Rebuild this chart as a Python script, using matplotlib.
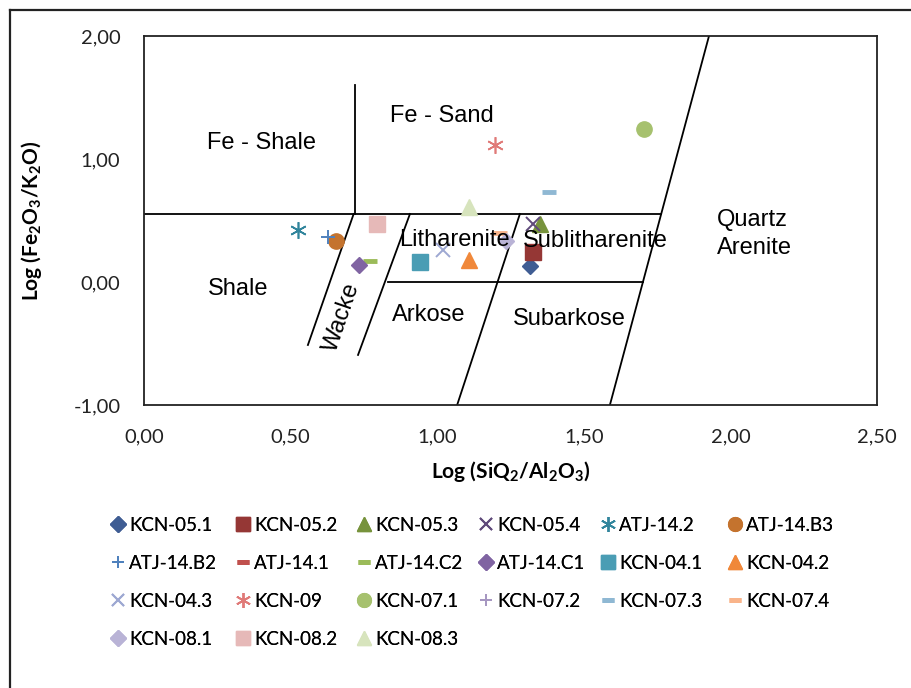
import matplotlib
matplotlib.use('Agg')
import matplotlib.pyplot as plt
from matplotlib.lines import Line2D
from matplotlib.ticker import FuncFormatter

plt.rcParams['font.family'] = ['Lato', 'DejaVu Sans']
plt.rcParams['mathtext.fontset'] = 'custom'
plt.rcParams['mathtext.rm'] = 'Lato'
plt.rcParams['mathtext.bf'] = 'Lato:bold'

# Samples: log(SiO2/Al2O3), log(Fe2O3/K2O)
names = ['KCN-05.1', 'KCN-05.2', 'KCN-05.3', 'KCN-05.4', 'ATJ-14.2', 'ATJ-14.B3',
         'ATJ-14.B2', 'ATJ-14.1', 'ATJ-14.C2', 'ATJ-14.C1', 'KCN-04.1', 'KCN-04.2',
         'KCN-04.3', 'KCN-09', 'KCN-07.1', 'KCN-07.2', 'KCN-07.3', 'KCN-07.4',
         'KCN-08.1', 'KCN-08.2', 'KCN-08.3']
log_si_al = [1.315, 1.326, 1.349, 1.326, 0.526, 0.656,
             0.628, 0.940, 0.770, 0.733, 0.942, 1.108,
             1.020, 1.197, 1.705, 1.235, 1.382, 1.215,
             1.235, 0.793, 1.109]
log_fe_k = [0.13, 0.245, 0.47, 0.475, 0.42, 0.334,
            0.367, 0.165, 0.17, 0.138, 0.165, 0.178,
            0.26, 1.114, 1.241, 0.35, 0.728, 0.40,
            0.33, 0.475, 0.612]
markers = ['D', 's', '^', 'x', (6, 2, 0), 'o',
           '+', '_', '_', 'D', 's', '^',
           'x', (6, 2, 0), 'o', '+', '_', '_',
           'D', 's', '^']
colors = ['#3F5D93', '#953735', '#77933C', '#604A7B', '#31859C', '#C4732E',
          '#4F81BD', '#C0504D', '#9BBB59', '#8064A2', '#4A9DB4', '#F0883A',
          '#9DA8D2', '#E07A78', '#A6C16E', '#A697C1', '#8FB8D3', '#F9B48A',
          '#B9B3D6', '#E6B9B8', '#D7E4BD']

# Herron (1988) field boundaries
h_upper_x = [0.0, 1.764]
h_upper_y = [0.553, 0.553]
v_fe_x = [0.72, 0.72]
v_fe_y = [0.553, 1.60]
wacke_l_x = [0.559, 0.715]
wacke_l_y = [-0.512, 0.553]
wacke_r_x = [0.730, 0.907]
wacke_r_y = [-0.593, 0.553]
h_zero_x = [0.832, 1.702]
h_zero_y = [0.0, 0.0]
lith_x = [1.068, 1.282]
lith_y = [-1.0, 0.553]
quartz_x = [1.589, 1.927]
quartz_y = [-1.0, 2.0]

fields = ['Fe - Shale', 'Fe - Sand', 'Shale', 'Litharenite', 'Sublitharenite',
          'Arkose', 'Subarkose', 'Quartz\nArenite']
field_x = [0.40, 1.015, 0.32, 1.06, 1.54, 0.97, 1.45, 1.955]
field_y = [1.13, 1.35, -0.06, 0.34, 0.33, -0.27, -0.30, 0.39]

fig = plt.figure(figsize=(9.12, 6.88), dpi=100)
ax = fig.add_axes([144/912, 1-405/688, 733/912, 369/688])

for xs, ys in [(h_upper_x, h_upper_y), (v_fe_x, v_fe_y), (wacke_l_x, wacke_l_y),
               (wacke_r_x, wacke_r_y), (h_zero_x, h_zero_y), (lith_x, lith_y),
               (quartz_x, quartz_y)]:
    ax.plot(xs, ys, color='black', lw=1.3, zorder=2)

for i in range(len(names)):
    m = markers[i]
    if m in ('x', '+'):
        ms, mew = 10, 1.4
    elif m == '_':
        ms, mew = 10, 3.5
    elif m == 'D':
        ms, mew = 8.5, 1
    elif isinstance(m, tuple):
        ms, mew = 12, 1.2
    else:
        ms, mew = 11, 1
    ax.plot(log_si_al[i], log_fe_k[i], ls='none', marker=m, color=colors[i],
            markersize=ms, markeredgewidth=mew, label=names[i], zorder=3)

for t, x, y in zip(fields, field_x, field_y):
    ha = 'left' if '\n' in t else 'center'
    ax.text(x, y, t, ha=ha, va='center', fontsize=17, family='Liberation Sans',
            zorder=5, linespacing=1.3)
ax.text(0.675, -0.29, 'Wacke', rotation=71, ha='center', va='center', fontsize=17,
        family='Liberation Sans', zorder=5)

ax.set_xlim(0, 2.5)
ax.set_ylim(-1, 2)
ax.set_xticks([0, 0.5, 1, 1.5, 2, 2.5])
ax.set_yticks([-1, 0, 1, 2])
fmt = FuncFormatter(lambda v, p: ('%.2f' % v).replace('.', ','))
ax.xaxis.set_major_formatter(fmt)
ax.yaxis.set_major_formatter(fmt)
ax.tick_params(length=0, labelsize=14.5, colors='#222222')
ax.tick_params(axis='x', pad=17)
ax.tick_params(axis='y', pad=17)
for s in ax.spines.values():
    s.set_linewidth(1.3)
    s.set_color('#222222')

ax.set_xlabel(r'Log (SiQ$_\mathbf{2}$/Al$_\mathbf{2}$O$_\mathbf{3}$)', fontsize=15,
              fontweight='bold', labelpad=10)
ax.set_ylabel(r'Log (Fe$_\mathbf{2}$O$_\mathbf{3}$/K$_\mathbf{2}$O)', fontsize=15,
              fontweight='bold', labelpad=21)

# legend, Excel style: six fixed-width columns filled row by row
handles, labels = ax.get_legend_handles_labels()
col_px = [118, 243, 364, 486, 608, 735]
leg_fs = 13.5
for c, xpx in enumerate(col_px):
    idx = [k for k in range(c, len(handles), 6)]
    leg = fig.legend([handles[k] for k in idx], [labels[k] for k in idx],
                     loc='upper left', bbox_to_anchor=((xpx - 6.5) / 912, 1 - 517 / 688),
                     ncol=1, frameon=False, fontsize=leg_fs, markerscale=0.9,
                     handlelength=0.7, handletextpad=0.25, labelspacing=1.12,
                     borderpad=0, borderaxespad=0)
    fig.add_artist(leg)

# outer frame (left and top edges)
fig.add_artist(Line2D([10/912, 10/912], [0, 1-10/688], color='#222222', lw=1.6))
fig.add_artist(Line2D([10/912, 1], [1-10/688, 1-10/688], color='#222222', lw=1.6))

fig.savefig('out.png', dpi=100)
